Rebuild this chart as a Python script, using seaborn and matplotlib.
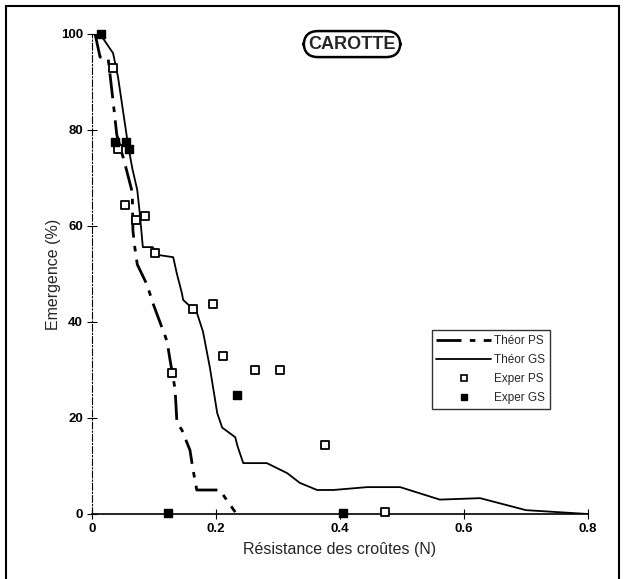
import matplotlib
matplotlib.use("Agg")
import matplotlib.pyplot as plt
import seaborn as sns
import pandas as pd
from matplotlib.lines import Line2D
from matplotlib.patches import Rectangle

# ---- data ----
theor_ps_x = [0.005, 0.013, 0.026, 0.034, 0.040, 0.053, 0.065, 0.066, 0.069, 0.073, 0.089,
              0.098, 0.121, 0.126, 0.134, 0.137, 0.145, 0.158, 0.163, 0.169, 0.206, 0.231]
theor_ps_y = [100, 95.2, 95, 86, 79, 73, 67, 59, 55.6, 52, 47.7,
              44, 36, 32, 26, 19, 17.5, 13.3, 9.2, 5, 5, 0.4]

theor_gs_x = [0.013, 0.034, 0.042, 0.050, 0.058, 0.065, 0.073, 0.077, 0.082, 0.098, 0.105,
              0.131, 0.137, 0.145, 0.147, 0.169, 0.179, 0.190, 0.202, 0.210, 0.231, 0.235,
              0.244, 0.282, 0.315, 0.335, 0.363, 0.389, 0.444, 0.497, 0.561, 0.626, 0.700, 0.80]
theor_gs_y = [100, 96, 91, 84, 77, 72, 67.5, 62.7, 55.6, 55.6, 54,
              53.5, 50, 46, 44.6, 42, 38, 30.6, 21, 18, 16, 14,
              10.6, 10.6, 8.5, 6.5, 5, 5, 5.6, 5.6, 3, 3.3, 0.8, 0]

exper_ps_x = [0.034, 0.042, 0.053, 0.071, 0.085, 0.102, 0.163, 0.195, 0.211, 0.129, 0.263, 0.303, 0.376, 0.473]
exper_ps_y = [93, 76, 64.4, 61.3, 62, 54.4, 42.7, 43.7, 33, 29.4, 30, 30, 14.4, 0.4]

exper_gs_x = [0.015, 0.037, 0.055, 0.060, 0.234, 0.122, 0.405]
exper_gs_y = [100, 77.5, 77.5, 76, 24.8, 0.2, 0.3]

x_ticks = [0, 0.2, 0.4, 0.6, 0.8]
x_tick_labels = ["0", "0.2", "0.4", "0.6", "0.8"]
y_ticks = [0, 20, 40, 60, 80, 100]

sns.set_theme(style="white")
plt.rcParams['font.family'] = ['Liberation Sans', 'DejaVu Sans']

W, H = 625, 579
fig = plt.figure(figsize=(W / 100, H / 100), dpi=100)
ax = fig.add_axes([92 / W, 1 - 514 / H, 496 / W, 480 / H])

df_ps = pd.DataFrame({"x": theor_ps_x, "y": theor_ps_y})
df_gs = pd.DataFrame({"x": theor_gs_x, "y": theor_gs_y})
df_eps = pd.DataFrame({"x": exper_ps_x, "y": exper_ps_y})
df_egs = pd.DataFrame({"x": exper_gs_x, "y": exper_gs_y})

ps_dash = (0, (9, 3, 2, 3))
sns.lineplot(data=df_ps, x="x", y="y", ax=ax, sort=False, estimator=None,
             color="black", lw=2.0)
ax.lines[-1].set_linestyle(ps_dash)
sns.lineplot(data=df_gs, x="x", y="y", ax=ax, sort=False, estimator=None,
             color="black", lw=1.3)
sns.scatterplot(data=df_eps, x="x", y="y", ax=ax, marker="s", s=38,
                facecolor="white", edgecolor="black", linewidth=1.3, zorder=5)
sns.scatterplot(data=df_egs, x="x", y="y", ax=ax, marker="s", s=38,
                color="black", edgecolor="black", linewidth=1.0, zorder=5)
for c in ax.collections:
    c.set_clip_on(False)

ax.set_xlim(0, 0.8)
ax.set_ylim(0, 100)
ax.set_xticks(x_ticks)
ax.set_xticklabels(x_tick_labels)
ax.set_yticks(y_ticks)

for s in ["top", "right"]:
    ax.spines[s].set_visible(False)
ax.spines["left"].set_linestyle((0, (6, 2, 1, 2)))
ax.spines["left"].set_linewidth(0.8)
ax.spines["left"].set_color("black")
ax.spines["bottom"].set_linewidth(1.2)
ax.spines["bottom"].set_color("black")

ax.tick_params(axis="both", which="major", direction="inout", length=7, width=0.8,
               colors="black", labelsize=9.5, bottom=True, left=True, pad=3)
for lab in ax.get_xticklabels() + ax.get_yticklabels():
    lab.set_fontweight("bold")

ax.set_xlabel("Résistance des croûtes (N)", fontsize=11.5, labelpad=5)
ax.set_ylabel("Emergence (%)", fontsize=11.5, labelpad=0)

ax.text(0.5242, 0.979, "CAROTTE", transform=ax.transAxes, ha="center", va="center",
        fontsize=13, fontweight="bold",
        bbox=dict(boxstyle="round,pad=0.25,rounding_size=0.8", fc="white", ec="black", lw=1.8))

handles = [
    Line2D([], [], color="black", lw=2.0, linestyle=ps_dash),
    Line2D([], [], color="black", lw=1.3),
    Line2D([], [], color="black", marker="s", markerfacecolor="white", linestyle="None",
           markersize=5, markeredgewidth=1.2),
    Line2D([], [], color="black", marker="s", markerfacecolor="black", linestyle="None",
           markersize=5),
]
leg = ax.legend(handles, ["Théor PS", "Théor GS", "Exper PS", "Exper GS"],
                loc="upper left", bbox_to_anchor=(0.685, 0.383), fontsize=8.5,
                frameon=True, fancybox=False, edgecolor="black", handlelength=4.6,
                handletextpad=0.3, borderpad=0.4, labelspacing=0.6, borderaxespad=0)
leg.get_frame().set_linewidth(1.0)

# outer frame
fig.patches.append(Rectangle((6 / W, -0.01), (619 - 6) / W, 1 - 6 / H + 0.01,
                             transform=fig.transFigure, fill=False, ec="black", lw=1.5))

fig.savefig("out.png", dpi=100)
